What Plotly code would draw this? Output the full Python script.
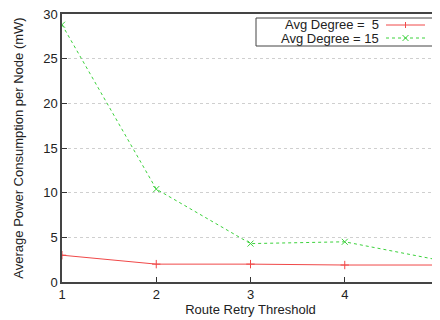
import plotly.graph_objects as go

threshold = [1, 2, 3, 4, 5]
deg5 = [3.0, 2.0, 2.0, 1.9, 1.9]
deg15 = [28.8, 10.4, 4.3, 4.5, 2.45]
y_ticks = [0, 5, 10, 15, 20, 25, 30]
x_ticks = [1, 2, 3, 4, 5]
series_names = ["Avg Degree =  5", "Avg Degree = 15"]

RED = "#f04848"
GREEN = "#3cd23c"
FONT = "Liberation Sans, Arial, sans-serif"
GREEN_DASH = "3px,3px"

fig = go.Figure()
fig.add_trace(go.Scatter(
    x=threshold, y=deg5, mode="lines+markers", name=series_names[0],
    line=dict(color=RED, width=1),
    marker=dict(symbol="cross-thin", size=6, line=dict(color=RED, width=1)),
    showlegend=False,
))
fig.add_trace(go.Scatter(
    x=threshold, y=deg15, mode="lines+markers", name=series_names[1],
    line=dict(color=GREEN, width=1, dash=GREEN_DASH),
    marker=dict(symbol="x-thin", size=6, line=dict(color=GREEN, width=1)),
    showlegend=False,
))

# plot area in page pixels: x 62..439, y 14..282 (page has an 8px body margin)
def px(p):
    return (p - 62) / 377.0

def py(p):
    return (282 - p) / 268.0

shapes = []
annotations = []
# legend box
shapes.append(dict(type="rect", xref="paper", yref="paper",
                   x0=px(256), x1=px(433), y0=py(46), y1=py(18),
                   line=dict(color="#444", width=1), fillcolor="white", layer="above"))
rows = [25, 38]
colors = [RED, GREEN]
dashes = ["solid", GREEN_DASH]
for name, row, col, dsh, idx in zip(series_names, rows, colors, dashes, range(2)):
    annotations.append(dict(xref="paper", yref="paper", x=px(381), y=py(row),
                            xanchor="right", yanchor="middle", text=name.replace("  ", "&nbsp; "),
                            showarrow=False, font=dict(family=FONT, size=13, color="#222")))
    shapes.append(dict(type="line", xref="paper", yref="paper",
                       x0=px(386), x1=px(425), y0=py(row), y1=py(row),
                       line=dict(color=col, width=1, dash=dsh), layer="above"))
    if idx == 0:
        shapes.append(dict(type="line", xref="paper", yref="paper",
                           x0=px(405.5), x1=px(405.5), y0=py(row - 3), y1=py(row + 3),
                           line=dict(color=col, width=1), layer="above"))
    else:
        shapes.append(dict(type="line", xref="paper", yref="paper",
                           x0=px(402.5), x1=px(408.5), y0=py(row - 3), y1=py(row + 3),
                           line=dict(color=col, width=1), layer="above"))
        shapes.append(dict(type="line", xref="paper", yref="paper",
                           x0=px(402.5), x1=px(408.5), y0=py(row + 3), y1=py(row - 3),
                           line=dict(color=col, width=1), layer="above"))

fig.update_layout(
    width=432, height=312,
    margin=dict(l=54, r=1, t=6, b=38, autoexpand=False),
    paper_bgcolor="white", plot_bgcolor="white",
    font=dict(family=FONT, size=13, color="#222"),
    showlegend=False,
    shapes=shapes,
    annotations=annotations,
    xaxis=dict(
        range=[1, 5], tickvals=x_ticks, ticks="inside", ticklen=5,
        tickcolor="#333", showline=True, linecolor="#444", linewidth=1.5,
        mirror=True, showgrid=False, zeroline=False, automargin=False,
        ticklabeloverflow="allow",
        title=dict(text="Route Retry Threshold", standoff=4, font=dict(size=13)),
        tickfont=dict(size=13),
    ),
    yaxis=dict(
        range=[0, 30], tickvals=y_ticks, ticks="inside", ticklen=5,
        tickcolor="#333", showline=True, linecolor="#444", linewidth=1.5,
        mirror=True, showgrid=True, gridcolor="#cfcfcf", griddash="dot",
        gridwidth=1, zeroline=False, automargin=False,
        ticklabeloverflow="allow",
        title=dict(text="Average Power Consumption per Node (mW)", standoff=17, font=dict(size=13)),
        tickfont=dict(size=13),
    ),
)

fig.write_html("out.html")
